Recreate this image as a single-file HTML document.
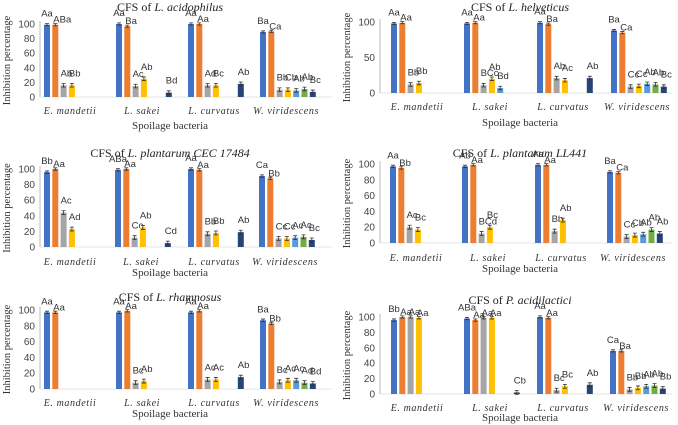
<!DOCTYPE html>
<html><head><meta charset="utf-8"><style>
html,body{margin:0;padding:0;background:#fff;}
svg{display:block;}
text{font-family:"Liberation Sans",sans-serif;}
.ser{font-family:"Liberation Serif",serif;}
</style></head><body>
<svg id="fig" width="678" height="425" viewBox="0 0 678 425" xmlns="http://www.w3.org/2000/svg"></svg>
<script>
const categories = ["E. mandetii","L. sakei","L. curvatus","W. viridescens"];
const seriesColors = ["#4472C4","#ED7D31","#A5A5A5","#FFC000","#5B9BD5","#70AD47","#264478"];
const p1Values = [[99,99,16,16,null,null,null],[100,97,15,25,null,null,6],[100,100,16,16,null,null,18],[89,90,10,10,9,11,7]];
const p1Labels = [["Aa","ABa","Ab","Bb"],["Aa","Ba","Ac","Ab",null,null,"Bd"],["Aa","Aa","Ad","Bc",null,null,"Ab"],["Ba","Ca","Bb","Cb","Ab","Ab","Bc"]];
const p2Values = [[98,99,12,14,null,null,null],[98,99,11,20,7,null,null],[99,97,21,18,null,null,21],[88,85,9,10,13,12,9]];
const p2Labels = [["Aa","Aa","Bb","Bb"],["Aa","Aa","BCc","Ab","Bd"],["Aa","Ba","Ab","Ac",null,null,"Ab"],["Ba","Ca","Cc","Cc","Ab","Ab","Bc"]];
const p3Values = [[96,100,44,23,null,null,null],[99,100,12,25,null,null,5],[100,99,17,18,null,null,19],[91,88,11,11,12,13,9]];
const p3Labels = [["Bb","Aa","Ac","Ad"],["ABa","Aa","Cc","Ab",null,null,"Cd"],["Aa","Aa","Bb","Bb",null,null,"Ab"],["Ca","Bb","Cc","Cc","Ac","Ac","Bc"]];
const p4Values = [[97,95,20,17,null,null,null],[97,99,12,20,null,null,null],[99,99,15,29,null,null,null],[90,89,8,10,11,17,12]];
const p4Labels = [["Aa","Bb","Ac","Bc"],["Ab","Aa","BCd","Bc"],["Aa","Aa","Bb","Ab"],["Ba","Ca","Cc","Cb","Ab","Ab","Ab"]];
const p5Values = [[97,97,null,null,null,null,null],[97,99,8,10,null,null,null],[97,99,12,12,null,null,15],[87,83,9,11,11,8,7]];
const p5Labels = [["Aa","Aa"],["Aa","Aa","Bc","Ab"],["Aa","Aa","Ac","Ac",null,null,"Ab"],["Ba","Bb","Bc","Ac","Ac","Ad","Bd"]];
const p6Values = [[96,100,100,99,null,null,null],[98,96,99,99,null,null,2],[100,99,5,10,null,null,12],[56,56,6,8,10,11,7]];
const p6Labels = [["Bb","Aa","Aa","Aa"],["ABa","Aa","Aa","Aa",null,null,"Cb"],["Aa","Aa","Bc","Bc",null,null,"Ab"],["Ca","Ba","Bb","Bb","Ab","Ab","Bb"]];
const ticksA = [0,20,40,60,80,100];
const ticksB = [0,50,100];
const titles = [["CFS of ","L. acidophilus"],["CFS of ","L. helveticus"],["CFS of ","L. plantarum CEC 17484"],["CFS of ","L. plantarum LL441"],["CFS of ","L. rhamnosus"],["CFS of ","P. acidilactici"]];

const panels = [
 {ox:0,  y0:97, y100:24, gx:[44,116,188,260], ax:40, tx:170, ty:11, cy:114, xy:129, vals:p1Values, labs:p1Labels, ticks:ticksA, title:titles[0]},
 {ox:340,y0:93, y100:22, gx:[391,464,537,611], ax:380, tx:520, ty:11, cy:110, xy:126, vals:p2Values, labs:p2Labels, ticks:ticksB, title:titles[1]},
 {ox:0,  y0:247,y100:169,gx:[44,115,188,259], ax:40, tx:170, ty:157, cy:265, xy:276, vals:p3Values, labs:p3Labels, ticks:ticksA, title:titles[2]},
 {ox:340,y0:243,y100:164,gx:[390,462,535,607], ax:380, tx:520, ty:157, cy:261, xy:272, vals:p4Values, labs:p4Labels, ticks:ticksA, title:titles[3]},
 {ox:0,  y0:389,y100:310,gx:[44,116,188,260], ax:40, tx:170, ty:301, cy:406, xy:417, vals:p5Values, labs:p5Labels, ticks:ticksA, title:titles[4]},
 {ox:340,y0:394,y100:317,gx:[391,464,537,610], ax:380, tx:520, ty:304, cy:411, xy:421, vals:p6Values, labs:p6Labels, ticks:ticksA, title:titles[5]}
];
const NS="http://www.w3.org/2000/svg";
const svg=document.getElementById('fig');
function mk(tag,attrs,parent,txt){const e=document.createElementNS(NS,tag);for(const k in attrs)e.setAttribute(k,attrs[k]);if(txt!==undefined)e.textContent=txt;(parent||svg).appendChild(e);return e;}
const SLOT=8.3, BW=6;
panels.forEach((p,pi)=>{
  const g=mk('g',{});
  
  
  const yy=v=>p.y0+(p.y100-p.y0)*v/100;
  const t=mk('text',{x:p.tx,y:p.ty,'text-anchor':'middle','font-size':12,fill:'#222',class:'ser'},g);
  
  
  mk('tspan',{},t,p.title[0]); mk('tspan',{'font-style':'italic'},t,p.title[1]);
  const yl=mk('line',{x1:p.ax,x2:p.ax,y1:yy(100)-3,y2:p.y0,stroke:'#bbb','stroke-width':1},g);
  
  
  const xl=mk('line',{x1:p.ax,x2:p.ox+332,y1:p.y0,y2:p.y0,stroke:'#e4e4e4','stroke-width':1},g);
  
  
  p.ticks.forEach(tv=>{
    const tl=mk('text',{x:p.ax-5,y:yy(tv)+3.5,'text-anchor':'end','font-size':10,fill:'#444'},g,String(tv));
    
    
  });
  const cyMid=(p.y0+p.y100)/2;
  const yt=mk('text',{x:0,y:0,transform:`translate(${p.ox+10},${cyMid}) rotate(-90)`,'text-anchor':'middle','font-size':10.5,fill:'#333',class:'ser'},g,'Inhibition percentage');
  
  
  const xt=mk('text',{x:p.tx,y:p.xy,'text-anchor':'middle','font-size':11,fill:'#333',class:'ser'},g,'Spoilage bacteria');
  
  
  categories.forEach((c,ci)=>{
    const cx=p.gx[ci]+SLOT*3.5-3;
    const cl=mk('text',{x:cx,y:p.cy,'text-anchor':'middle','font-size':10,'font-style':'italic',fill:'#333',class:'ser','letter-spacing':'0.6'},g,c);
    
    
    p.vals[ci].forEach((v,si)=>{
      if(v===null)return;
      const bx=p.gx[ci]+si*SLOT;
      const top=yy(v);
      const r=mk('rect',{x:bx,y:top,width:BW,height:p.y0-top,fill:seriesColors[si]},g);
      
      
      const e=v>50?1.5:2.5;
      const eh=(p.y0-p.y100)*e/100;
      mk('path',{d:`M${bx+3} ${top-eh}V${top+eh}M${bx+1} ${top-eh}H${bx+5}M${bx+1} ${top+eh}H${bx+5}`,stroke:'#333','stroke-width':0.8,fill:'none'},g);
      const lab=(p.labs[ci]||[])[si];
      if(lab){
        let attrs;
        if(si===0){attrs={x:bx+3,y:top-8,'text-anchor':'middle'};}
        else if(v>50){attrs={x:bx+1,y:top-2,'text-anchor':'start'};}
        else {attrs={x:bx,y:top-9,'text-anchor':'start'};}
        attrs['font-size']=9.5; attrs.fill='#333';
        const lt=mk('text',attrs,g,lab);
        
        
      }
    });
  });
});
</script>
</body></html>
